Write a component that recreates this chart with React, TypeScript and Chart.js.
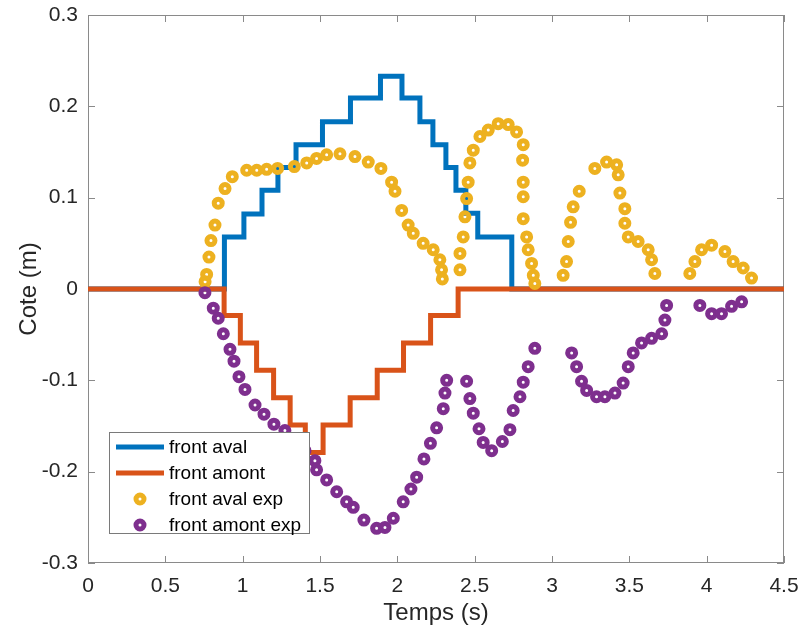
import React, { useEffect, useRef } from "react";
import { Chart, registerables } from "chart.js";

Chart.register(...registerables);

// ---- axis ticks ----
const xTickValues = [0, 0.5, 1, 1.5, 2, 2.5, 3, 3.5, 4, 4.5];
const xTickLabels = ["0", "0.5", "1", "1.5", "2", "2.5", "3", "3.5", "4", "4.5"];
const yTickValues = [-0.3, -0.2, -0.1, 0, 0.1, 0.2, 0.3];
const yTickLabels = ["-0.3", "-0.2", "-0.1", "0", "0.1", "0.2", "0.3"];

const xTitle = "Temps (s)";
const yTitle = "Cote (m)";

const seriesLabels = ["front aval", "front amont", "front aval exp", "front amont exp"];
const seriesColors = ["#0072BD", "#D95319", "#EDB120", "#7E2F8E"];

// ---- front aval (model, stepped) ----
const frontAvalT = [0, 0.882, 1.008, 1.125, 1.228, 1.345, 1.516, 1.697, 1.891, 2.03, 2.146, 2.23, 2.314, 2.379, 2.443, 2.52, 2.74, 4.5];
const frontAvalZ = [0, 0.057, 0.082, 0.108, 0.133, 0.158, 0.183, 0.209, 0.233, 0.209, 0.183, 0.158, 0.133, 0.108, 0.083, 0.057, 0, 0];

// ---- front amont (model, stepped) ----
const frontAmontT = [0, 0.88, 0.985, 1.09, 1.2, 1.307, 1.405, 1.52, 1.695, 1.87, 2.04, 2.215, 2.393, 4.5];
const frontAmontZ = [0, -0.029, -0.059, -0.089, -0.119, -0.149, -0.179, -0.149, -0.119, -0.089, -0.059, -0.029, 0, 0];

// ---- front aval exp ----
const avalExpT = [
  0.757, 0.767, 0.782, 0.795, 0.821, 0.842, 0.886, 0.933, 1.026, 1.091, 1.155, 1.226, 1.334, 1.414, 1.478,
  1.543, 1.629, 1.726, 1.812, 1.894, 1.963, 1.985, 2.028, 2.07, 2.103, 2.167, 2.232, 2.275, 2.286, 2.291,
  2.405, 2.405, 2.426, 2.437, 2.448, 2.458, 2.469, 2.491, 2.534, 2.588, 2.652, 2.717, 2.771, 2.814, 2.81,
  2.814, 2.814, 2.814, 2.836, 2.846, 2.868, 2.879, 2.889,
  3.072, 3.094, 3.105, 3.12, 3.137, 3.176, 3.277, 3.353, 3.418, 3.428, 3.439, 3.471, 3.471, 3.493, 3.557,
  3.622, 3.644, 3.665,
  3.891, 3.924, 3.967, 4.032, 4.118, 4.171, 4.236, 4.29,
];
const avalExpZ = [
  0.008, 0.016, 0.035, 0.053, 0.07, 0.094, 0.11, 0.123, 0.13, 0.13, 0.131, 0.132, 0.134, 0.138, 0.143,
  0.147, 0.148, 0.145, 0.139, 0.132, 0.117, 0.107, 0.086, 0.07, 0.061, 0.05, 0.043, 0.032, 0.021, 0.011,
  0.021, 0.039, 0.057, 0.079, 0.099, 0.117, 0.138, 0.152, 0.167, 0.174, 0.181, 0.18, 0.172, 0.158, 0.141,
  0.117, 0.101, 0.077, 0.057, 0.043, 0.028, 0.015, 0.006,
  0.015, 0.03, 0.052, 0.073, 0.09, 0.107, 0.132, 0.139, 0.136, 0.125, 0.105, 0.088, 0.072, 0.057, 0.052,
  0.043, 0.032, 0.017,
  0.017, 0.03, 0.043, 0.048, 0.041, 0.03, 0.023, 0.012,
];

// ---- front amont exp ----
const amontExpT = [
  0.756, 0.81, 0.842, 0.875, 0.918, 0.944, 0.976, 1.015, 1.08, 1.138, 1.202, 1.273, 1.338, 1.403, 1.467,
  1.478, 1.543, 1.608, 1.672, 1.715, 1.784, 1.866, 1.92, 1.974, 2.038, 2.088, 2.125, 2.172, 2.214, 2.254,
  2.297, 2.308, 2.319,
  2.448, 2.469, 2.491, 2.528, 2.555, 2.61, 2.679, 2.728, 2.749, 2.793, 2.814, 2.846, 2.889,
  3.127, 3.159, 3.191, 3.224, 3.288, 3.342, 3.407, 3.46, 3.493, 3.525, 3.579, 3.644, 3.709, 3.73, 3.741,
  3.956, 4.032, 4.096, 4.161, 4.226,
];
const amontExpZ = [
  -0.004, -0.021, -0.032, -0.049, -0.066, -0.079, -0.096, -0.11, -0.127, -0.137, -0.148, -0.155, -0.166, -0.177, -0.188,
  -0.198, -0.209, -0.222, -0.233, -0.239, -0.253, -0.262, -0.261, -0.251, -0.233, -0.219, -0.206, -0.186, -0.169, -0.152,
  -0.131, -0.114, -0.1,
  -0.101, -0.12, -0.136, -0.153, -0.168, -0.177, -0.167, -0.154, -0.133, -0.118, -0.102, -0.085, -0.065,
  -0.07, -0.085, -0.101, -0.111, -0.118, -0.118, -0.114, -0.103, -0.085, -0.07, -0.059, -0.054, -0.049, -0.034, -0.018,
  -0.018, -0.027, -0.027, -0.019, -0.014,
];

const zip = (t: number[], z: number[]) => t.map((x, i) => ({ x, y: z[i] }));

const FONT = "'Liberation Sans', Arial, Helvetica, sans-serif";
const TEXT = "#262626";

export default function App() {
  const ref = useRef<HTMLCanvasElement>(null);

  useEffect(() => {
    const canvas = ref.current;
    if (!canvas) return;

    const boxPlugin = {
      id: "matlabBox",
      beforeDatasetsDraw(chart: any) {
        const { ctx, chartArea: a, scales } = chart;
        ctx.save();
        ctx.strokeStyle = "#8a8a8a";
        ctx.lineWidth = 1;
        ctx.strokeRect(a.left + 0.5, a.top + 0.5, a.right - a.left - 1, a.bottom - a.top - 1);
        const L = 7;
        ctx.beginPath();
        xTickValues.forEach((v) => {
          const px = Math.round(scales.x.getPixelForValue(v)) + 0.5;
          ctx.moveTo(px, a.bottom);
          ctx.lineTo(px, a.bottom - L);
          ctx.moveTo(px, a.top);
          ctx.lineTo(px, a.top + L);
        });
        yTickValues.forEach((v) => {
          const py = Math.round(scales.y.getPixelForValue(v)) + 0.5;
          ctx.moveTo(a.left, py);
          ctx.lineTo(a.left + L, py);
          ctx.moveTo(a.right, py);
          ctx.lineTo(a.right - L, py);
        });
        ctx.stroke();
        ctx.restore();
      },
    };

    const legendPlugin = {
      id: "matlabLegend",
      afterDraw(chart: any) {
        const { ctx, chartArea: a } = chart;
        const left = a.left + 21;
        const top = a.top + 417;
        const w = 200;
        const h = 101;
        ctx.save();
        ctx.fillStyle = "#ffffff";
        ctx.fillRect(left, top, w, h);
        ctx.strokeStyle = "#7a7a7a";
        ctx.lineWidth = 1;
        ctx.strokeRect(left + 0.5, top + 0.5, w, h);
        ctx.font = `19px ${FONT}`;
        ctx.textBaseline = "middle";
        ctx.textAlign = "left";
        seriesLabels.forEach((label, i) => {
          const cy = top + 15 + i * 26;
          const color = seriesColors[i];
          if (i < 2) {
            ctx.strokeStyle = color;
            ctx.lineWidth = 5;
            ctx.beginPath();
            ctx.moveTo(left + 7, cy);
            ctx.lineTo(left + 55, cy);
            ctx.stroke();
          } else {
            ctx.strokeStyle = color;
            ctx.lineWidth = 5;
            ctx.beginPath();
            ctx.arc(left + 31, cy, 4, 0, Math.PI * 2);
            ctx.stroke();
          }
          ctx.fillStyle = "#000000";
          ctx.fillText(label, left + 60, cy + 1);
        });
        ctx.restore();
      },
    };

    const chart = new Chart(canvas, {
      type: "scatter",
      data: {
        datasets: [
          {
            label: seriesLabels[0],
            data: zip(frontAvalT, frontAvalZ),
            showLine: true,
            stepped: "before",
            borderColor: seriesColors[0],
            backgroundColor: seriesColors[0],
            borderWidth: 5,
            pointRadius: 0,
            borderJoinStyle: "miter",
            order: 4,
          },
          {
            label: seriesLabels[1],
            data: zip(frontAmontT, frontAmontZ),
            showLine: true,
            stepped: "before",
            borderColor: seriesColors[1],
            backgroundColor: seriesColors[1],
            borderWidth: 5,
            pointRadius: 0,
            borderJoinStyle: "miter",
            order: 3,
          },
          {
            label: seriesLabels[2],
            data: zip(avalExpT, avalExpZ),
            showLine: false,
            borderColor: seriesColors[2],
            backgroundColor: "rgba(0,0,0,0)",
            pointRadius: 4,
            pointBorderWidth: 5,
            pointStyle: "circle",
            order: 2,
          },
          {
            label: seriesLabels[3],
            data: zip(amontExpT, amontExpZ),
            showLine: false,
            borderColor: seriesColors[3],
            backgroundColor: "rgba(0,0,0,0)",
            pointRadius: 4,
            pointBorderWidth: 5,
            pointStyle: "circle",
            order: 1,
          },
        ] as any,
      },
      options: {
        responsive: false,
        animation: false,
        devicePixelRatio: 1,
        layout: { padding: { left: 0, top: 15, right: 19, bottom: 0 } },
        plugins: {
          legend: { display: false },
          tooltip: { enabled: false },
        },
        scales: {
          x: {
            type: "linear",
            min: 0,
            max: 4.5,
            grid: { display: false, drawTicks: false },
            border: { display: false },
            afterBuildTicks: (s: any) => {
              s.ticks = xTickValues.map((v) => ({ value: v }));
            },
            afterFit: (s: any) => {
              s.height = 74;
              s.paddingLeft = 0;
              s.paddingRight = 0;
              s.paddingTop = 0;
              s.paddingBottom = 0;
            },
            ticks: {
              autoSkip: false,
              maxRotation: 0,
              padding: 11,
              color: TEXT,
              font: { family: FONT, size: 21 },
              callback: (_v: any, i: number) => xTickLabels[i],
            },
            title: {
              display: true,
              text: xTitle,
              color: TEXT,
              font: { family: FONT, size: 24 },
              padding: { top: 0, bottom: 9 },
            },
          },
          y: {
            type: "linear",
            min: -0.3,
            max: 0.3,
            grid: { display: false, drawTicks: false },
            border: { display: false },
            afterBuildTicks: (s: any) => {
              s.ticks = yTickValues.map((v) => ({ value: v }));
            },
            afterFit: (s: any) => {
              s.width = 88;
              s.paddingLeft = 0;
              s.paddingRight = 0;
              s.paddingTop = 0;
              s.paddingBottom = 0;
            },
            ticks: {
              autoSkip: false,
              padding: 10,
              color: TEXT,
              font: { family: FONT, size: 21 },
              callback: (_v: any, i: number) => yTickLabels[i],
            },
            title: {
              display: true,
              text: yTitle,
              color: TEXT,
              font: { family: FONT, size: 24 },
              padding: { top: 15, bottom: 0 },
            },
          },
        },
      } as any,
      plugins: [boxPlugin, legendPlugin],
    });

    return () => chart.destroy();
  }, []);

  return (
    <div style={{ position: "absolute", left: 0, top: 0, width: 803, height: 637, background: "#fff" }}>
      <canvas ref={ref} width={803} height={637} style={{ width: 803, height: 637, display: "block" }} />
    </div>
  );
}
